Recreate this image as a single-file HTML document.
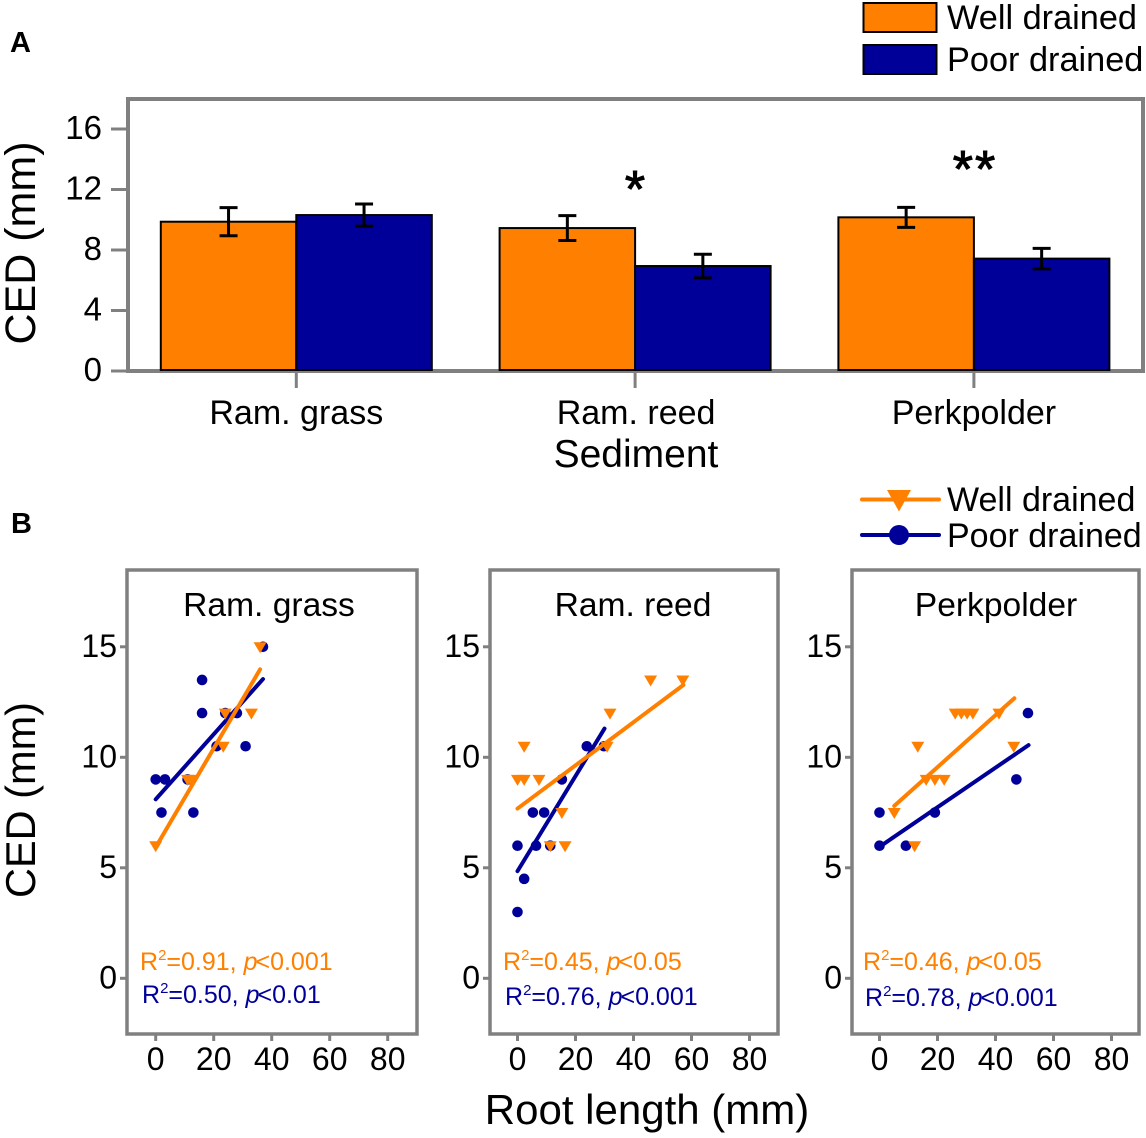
<!DOCTYPE html>
<html>
<head>
<meta charset="utf-8">
<title>CED chart</title>
<style>
html,body{margin:0;padding:0;background:#fff;}
svg{display:block;font-family:"Liberation Sans",sans-serif;}
</style>
</head>
<body>
<svg id="chart" xmlns="http://www.w3.org/2000/svg" width="1146" height="1138" viewBox="0 0 1146 1138">
<rect x="0" y="0" width="1146" height="1138" fill="#fff"/>
<text x="10" y="52" font-size="29" font-weight="bold">A</text>
<text x="11" y="533" font-size="29" font-weight="bold">B</text>

<g id="barLayer"></g>
<g id="scatterLayer"></g>

<text transform="translate(35 243) rotate(-90)" text-anchor="middle" font-size="43">CED (mm)</text>
<text x="636" y="467" text-anchor="middle" font-size="39">Sediment</text>
<text x="635" y="207" text-anchor="middle" font-size="52" stroke="#000" stroke-width="1">*</text>
<text x="975" y="187" text-anchor="middle" font-size="52" letter-spacing="2" stroke="#000" stroke-width="1">**</text>

<g>
  <rect x="863.5" y="3" width="73" height="29" fill="#FF8000" stroke="#000" stroke-width="2"/>
  <rect x="863.5" y="45" width="73" height="29" fill="#000099" stroke="#000" stroke-width="2"/>
  <text x="947" y="29" font-size="34.3">Well drained</text>
  <text x="947" y="71" font-size="34.3">Poor drained</text>
</g>

<g>
  <line x1="862" x2="939" y1="499.5" y2="499.5" stroke="#FF8000" stroke-width="4" stroke-linecap="round"/>
  <polygon points="887,490 911,490 899,511.5" fill="#FF8000"/>
  <line x1="862" x2="939" y1="535" y2="535" stroke="#000099" stroke-width="4" stroke-linecap="round"/>
  <circle cx="899" cy="535" r="10" fill="#000099"/>
  <text x="947" y="511" font-size="34">Well drained</text>
  <text x="947" y="547" font-size="34">Poor drained</text>
</g>

<text transform="translate(35 800) rotate(-90)" text-anchor="middle" font-size="41.5">CED (mm)</text>
<text x="647" y="1124" text-anchor="middle" font-size="42">Root length (mm)</text>

<g font-size="33.6" text-anchor="middle">
  <text x="269" y="616">Ram. grass</text>
  <text x="633" y="616">Ram. reed</text>
  <text x="996" y="616">Perkpolder</text>
</g>

<g font-size="25">
  <text x="140" y="970" fill="#FF8000">R<tspan font-size="15" dy="-10">2</tspan><tspan dy="10">=0.91, </tspan><tspan font-style="italic">p</tspan><tspan dx="-2">&lt;0.001</tspan></text>
  <text x="142" y="1003" fill="#000099">R<tspan font-size="15" dy="-10">2</tspan><tspan dy="10">=0.50, </tspan><tspan font-style="italic">p</tspan><tspan dx="-2">&lt;0.01</tspan></text>
  <text x="503" y="970" fill="#FF8000">R<tspan font-size="15" dy="-10">2</tspan><tspan dy="10">=0.45, </tspan><tspan font-style="italic">p</tspan><tspan dx="-2">&lt;0.05</tspan></text>
  <text x="505" y="1005" fill="#000099">R<tspan font-size="15" dy="-10">2</tspan><tspan dy="10">=0.76, </tspan><tspan font-style="italic">p</tspan><tspan dx="-2">&lt;0.001</tspan></text>
  <text x="863" y="970" fill="#FF8000">R<tspan font-size="15" dy="-10">2</tspan><tspan dy="10">=0.46, </tspan><tspan font-style="italic">p</tspan><tspan dx="-2">&lt;0.05</tspan></text>
  <text x="865" y="1006" fill="#000099">R<tspan font-size="15" dy="-10">2</tspan><tspan dy="10">=0.78, </tspan><tspan font-style="italic">p</tspan><tspan dx="-2">&lt;0.001</tspan></text>
</g>
</svg>

<script>
// ---- Panel A data ----
const sediments = ["Ram. grass", "Ram. reed", "Perkpolder"];
const wellMeans = [9.87, 9.45, 10.16];
const poorMeans = [10.31, 6.94, 7.43];
const wellErrors = [0.93, 0.82, 0.66];
const poorErrors = [0.73, 0.78, 0.68];
const barTicks = [0, 4, 8, 12, 16];

// ---- Panel B data: [root length, CED] pairs ----
const grassPoor = [[0,9],[3.2,9],[11,9],[2,7.5],[13,7.5],[16,13.5],[16,12],[24,12],[28,12],[21,10.5],[31,10.5],[37,15]];
const grassWell = [[0,6],[11,9],[12,9],[23.3,10.5],[24,12],[33,12],[36,15]];
const grassPoorFit = [[0,8.1],[37,13.54]];
const grassWellFit = [[0,5.93],[36,13.98]];

const reedPoor = [[0,6],[0,3],[2.3,4.5],[5.3,7.5],[9.2,7.5],[6.4,6],[11.3,6],[15.3,9],[23.9,10.5],[29.8,10.5]];
const reedWell = [[2.3,10.5],[0,9],[2.3,9],[7.4,9],[15.3,7.5],[11.3,6],[16.4,6],[30.9,10.5],[31.9,12],[45.9,13.5],[57,13.5]];
const reedPoorFit = [[0,4.85],[30,11.3]];
const reedWellFit = [[0,7.68],[57.2,13.27]];

const perkPoor = [[0,6],[0,7.5],[9.1,6],[19.1,7.5],[47.2,9],[51.2,12]];
const perkWell = [[5.1,7.5],[12.1,6],[13.2,10.5],[16.1,9],[19.1,9],[22.3,9],[26.1,12],[28.2,12],[30.2,12],[32.2,12],[41.2,12],[46.3,10.5]];
const perkPoorFit = [[0,5.95],[51.4,10.55]];
const perkWellFit = [[5.1,7.8],[46.5,12.67]];

const scatterXTicks = [0, 20, 40, 60, 80];
const scatterYTicks = [0, 5, 10, 15];

const ORANGE = "#FF8000", BLUE = "#000099", GRAY = "#808080";
const NS = "http://www.w3.org/2000/svg";

function mk(parent, tag, attrs, text) {
  const el = document.createElementNS(NS, tag);
  for (const k in attrs) el.setAttribute(k, attrs[k]);
  if (text !== undefined) el.textContent = text;
  parent.appendChild(el);
  return el;
}

// ---- Panel A ----
const barLayer = document.getElementById("barLayer");
const yA = v => 371 - v * 15.125;
const groupCenterA = i => 296.3 + i * 338.8;
const barWidthA = 135.5;

const frameA = mk(barLayer, "path", {d: "M128 371 V99 H1143 V371 Z", fill: "none", stroke: GRAY, "stroke-width": 4});



barTicks.forEach(t => {
  const tick = mk(barLayer, "line", {x1: 111, x2: 128, y1: yA(t), y2: yA(t), stroke: GRAY, "stroke-width": 3});
  
  
  const label = mk(barLayer, "text", {x: 102, y: yA(t) + 10, "text-anchor": "end", "font-size": 33}, t);
  
  
});

sediments.forEach((name, i) => {
  const c = groupCenterA(i);
  const tick = mk(barLayer, "line", {x1: c, x2: c, y1: 371, y2: 388, stroke: GRAY, "stroke-width": 3});
  
  
  const label = mk(barLayer, "text", {x: c + (i === 1 ? 1 : 0), y: 424, "text-anchor": "middle", "font-size": 34}, name);
  
  

  [[wellMeans, wellErrors, ORANGE, -barWidthA], [poorMeans, poorErrors, BLUE, 0]].forEach(s => {
    const v = s[0][i], e = s[1][i], left = c + s[3];
    const bar = mk(barLayer, "rect", {x: left, y: yA(v), width: barWidthA, height: 370 - yA(v), fill: s[2], stroke: "#000", "stroke-width": 2});
    
    
    const mid = left + barWidthA / 2;
    const err = mk(barLayer, "path", {
      d: "M" + (mid - 9) + " " + yA(v + e) + " H" + (mid + 9) + " M" + mid + " " + yA(v + e) + " V" + yA(v - e) + " M" + (mid - 9) + " " + yA(v - e) + " H" + (mid + 9),
      fill: "none", stroke: "#000", "stroke-width": 3
    });
    
    
  });
});

// ---- Panel B ----
const scatterLayer = document.getElementById("scatterLayer");
const yB = v => 978.3 - v * 22.1;
const panels = [
  {left: 127, right: 417, x0: 155.7, poor: grassPoor, well: grassWell, poorFit: grassPoorFit, wellFit: grassWellFit},
  {left: 490, right: 778, x0: 517.5, poor: reedPoor, well: reedWell, poorFit: reedPoorFit, wellFit: reedWellFit},
  {left: 852, right: 1139, x0: 879.5, poor: perkPoor, well: perkWell, poorFit: perkPoorFit, wellFit: perkWellFit}
];

panels.forEach(p => {
  const xB = v => p.x0 + v * 2.9;
  const frame = mk(scatterLayer, "rect", {x: p.left, y: 570, width: p.right - p.left, height: 464, fill: "none", stroke: GRAY, "stroke-width": 3.5});
  
  

  scatterYTicks.forEach(t => {
    const tick = mk(scatterLayer, "line", {x1: p.left - 7, x2: p.left, y1: yB(t), y2: yB(t), stroke: GRAY, "stroke-width": 3});
    
    
    const label = mk(scatterLayer, "text", {x: p.left - 10, y: yB(t) + 10, "text-anchor": "end", "font-size": 32}, t);
    
    
  });
  scatterXTicks.forEach(t => {
    const tick = mk(scatterLayer, "line", {x1: xB(t), x2: xB(t), y1: 1034, y2: 1041, stroke: GRAY, "stroke-width": 3});
    
    
    const label = mk(scatterLayer, "text", {x: xB(t), y: 1070, "text-anchor": "middle", "font-size": 32}, t);
    
    
  });

  p.poor.forEach(d => {
    const c = mk(scatterLayer, "circle", {cx: xB(d[0]), cy: yB(d[1]), r: 5.3, fill: BLUE});
    
    
  });
  const poorLine = mk(scatterLayer, "line", {x1: xB(p.poorFit[0][0]), y1: yB(p.poorFit[0][1]), x2: xB(p.poorFit[1][0]), y2: yB(p.poorFit[1][1]), stroke: BLUE, "stroke-width": 4, "stroke-linecap": "round"});
  
  

  p.well.forEach(d => {
    const cx = xB(d[0]), cy = yB(d[1]);
    const pts = (cx - 6.5) + "," + (cy - 4.5) + " " + (cx + 6.5) + "," + (cy - 4.5) + " " + cx + "," + (cy + 6.5);
    const t = mk(scatterLayer, "polygon", {points: pts, fill: ORANGE});
    
    
  });
  const wellLine = mk(scatterLayer, "line", {x1: xB(p.wellFit[0][0]), y1: yB(p.wellFit[0][1]), x2: xB(p.wellFit[1][0]), y2: yB(p.wellFit[1][1]), stroke: ORANGE, "stroke-width": 4, "stroke-linecap": "round"});
  
  
});
</script>
</body>
</html>
